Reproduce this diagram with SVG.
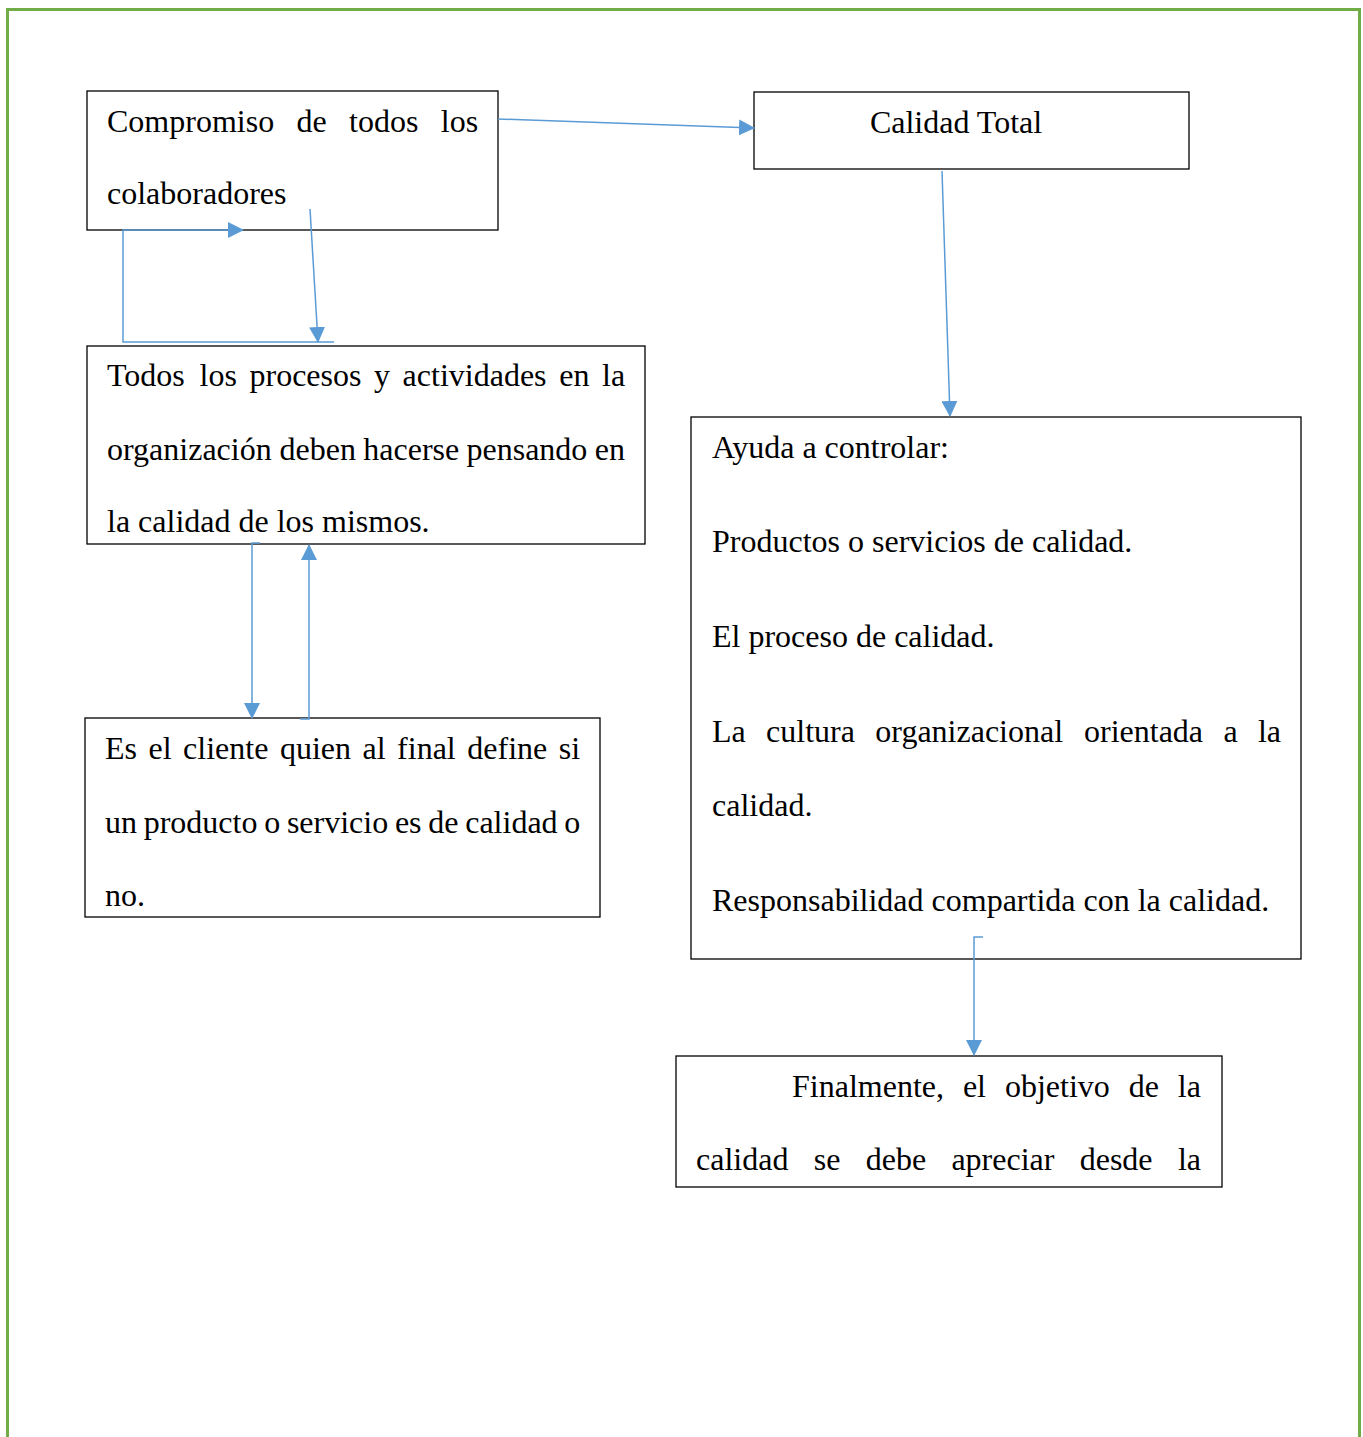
<svg xmlns="http://www.w3.org/2000/svg" width="1363" height="1437" viewBox="0 0 1363 1437">
<style>
.box{fill:#fff;stroke:#000;stroke-width:1.3}
.t{font-family:"Liberation Serif","Times New Roman",serif;font-size:32px;fill:#000}
.c{fill:none;stroke:#5B9BD5;stroke-width:1.5}
</style>
<defs>
<marker id="ah" markerUnits="userSpaceOnUse" markerWidth="16" markerHeight="16" viewBox="0 0 16 16" refX="15" refY="8" orient="auto">
<path d="M0,0 L16,8 L0,16 Z" fill="#5B9BD5"/>
</marker>
</defs>
<rect width="1363" height="1437" fill="#fff"/>
<path d="M7.5,1437 V9.5 H1359.5 V1437" fill="none" stroke="#70AD47" stroke-width="3"/>

<g id="n1">
<rect class="box" x="87" y="91" width="411" height="139"/>
<text class="t" y="132"><tspan x="107">Compromiso</tspan><tspan x="296.5">de</tspan><tspan x="349.1">todos</tspan><tspan x="440.8">los</tspan></text>
<text class="t" x="107" y="204">colaboradores</text>
</g>

<g id="n2">
<rect class="box" x="754" y="92" width="435" height="77"/>
<text class="t" x="956" y="133" text-anchor="middle">Calidad Total</text>
</g>

<g id="n3">
<rect class="box" x="87" y="346" width="558" height="198"/>
<text class="t" y="386"><tspan x="107">Todos</tspan><tspan x="199.6">los</tspan><tspan x="249.5">procesos</tspan><tspan x="374.1">y</tspan><tspan x="402.6">actividades</tspan><tspan x="559.2">en</tspan><tspan x="602">la</tspan></text>
<text class="t" y="460"><tspan x="107">organización</tspan><tspan x="279.6">deben</tspan><tspan x="363.3">hacerse</tspan><tspan x="466.5">pensando</tspan><tspan x="594.7">en</tspan></text>
<text class="t" x="107" y="532">la calidad de los mismos.</text>
</g>

<g id="n4">
<rect class="box" x="85" y="718" width="515" height="199"/>
<text class="t" y="759"><tspan x="105">Es</tspan><tspan x="148.5">el</tspan><tspan x="183.1">cliente</tspan><tspan x="279.9">quien</tspan><tspan x="362.5">al</tspan><tspan x="397.1">final</tspan><tspan x="467.3">define</tspan><tspan x="558.8">si</tspan></text>
<text class="t" y="833"><tspan x="105">un</tspan><tspan x="143.7">producto</tspan><tspan x="264.2">o</tspan><tspan x="286.9">servicio</tspan><tspan x="394.9">es</tspan><tspan x="428.3">de</tspan><tspan x="465.2">calidad</tspan><tspan x="564.3">o</tspan></text>
<text class="t" x="105" y="906">no.</text>
</g>

<g id="n5">
<rect class="box" x="691" y="417" width="610" height="542"/>
<text class="t" x="712" y="458">Ayuda a controlar:</text>
<text class="t" x="712" y="552">Productos o servicios de calidad.</text>
<text class="t" x="712" y="647">El proceso de calidad.</text>
<text class="t" y="742"><tspan x="712">La</tspan><tspan x="766.1">cultura</tspan><tspan x="875.3">organizacional</tspan><tspan x="1084">orientada</tspan><tspan x="1223.4">a</tspan><tspan x="1257.9">la</tspan></text>
<text class="t" x="712" y="816">calidad.</text>
<text class="t" x="712" y="911">Responsabilidad compartida con la calidad.</text>
</g>

<g id="n6">
<rect class="box" x="676" y="1056" width="546" height="131"/>
<text class="t" y="1097"><tspan x="792">Finalmente,</tspan><tspan x="962.9">el</tspan><tspan x="1004.9">objetivo</tspan><tspan x="1128.7">de</tspan><tspan x="1177.8">la</tspan></text>
<text class="t" y="1170"><tspan x="696">calidad</tspan><tspan x="813.7">se</tspan><tspan x="865.7">debe</tspan><tspan x="951.4">apreciar</tspan><tspan x="1079.7">desde</tspan><tspan x="1177.9">la</tspan></text>
</g>

<g id="connectors">
<path class="c" d="M498,119 L754,128" marker-end="url(#ah)"/>
<path class="c" d="M334,342 H123 V230 H243" marker-end="url(#ah)"/>
<path class="c" d="M310,209 L318,342" marker-end="url(#ah)"/>
<path class="c" d="M942,171 L950,416" marker-end="url(#ah)"/>
<path class="c" d="M260,543 H252 V718" marker-end="url(#ah)"/>
<path class="c" d="M300,719 H309 V545" marker-end="url(#ah)"/>
<path class="c" d="M983,937 H974 V1055" marker-end="url(#ah)"/>
</g>
</svg>
